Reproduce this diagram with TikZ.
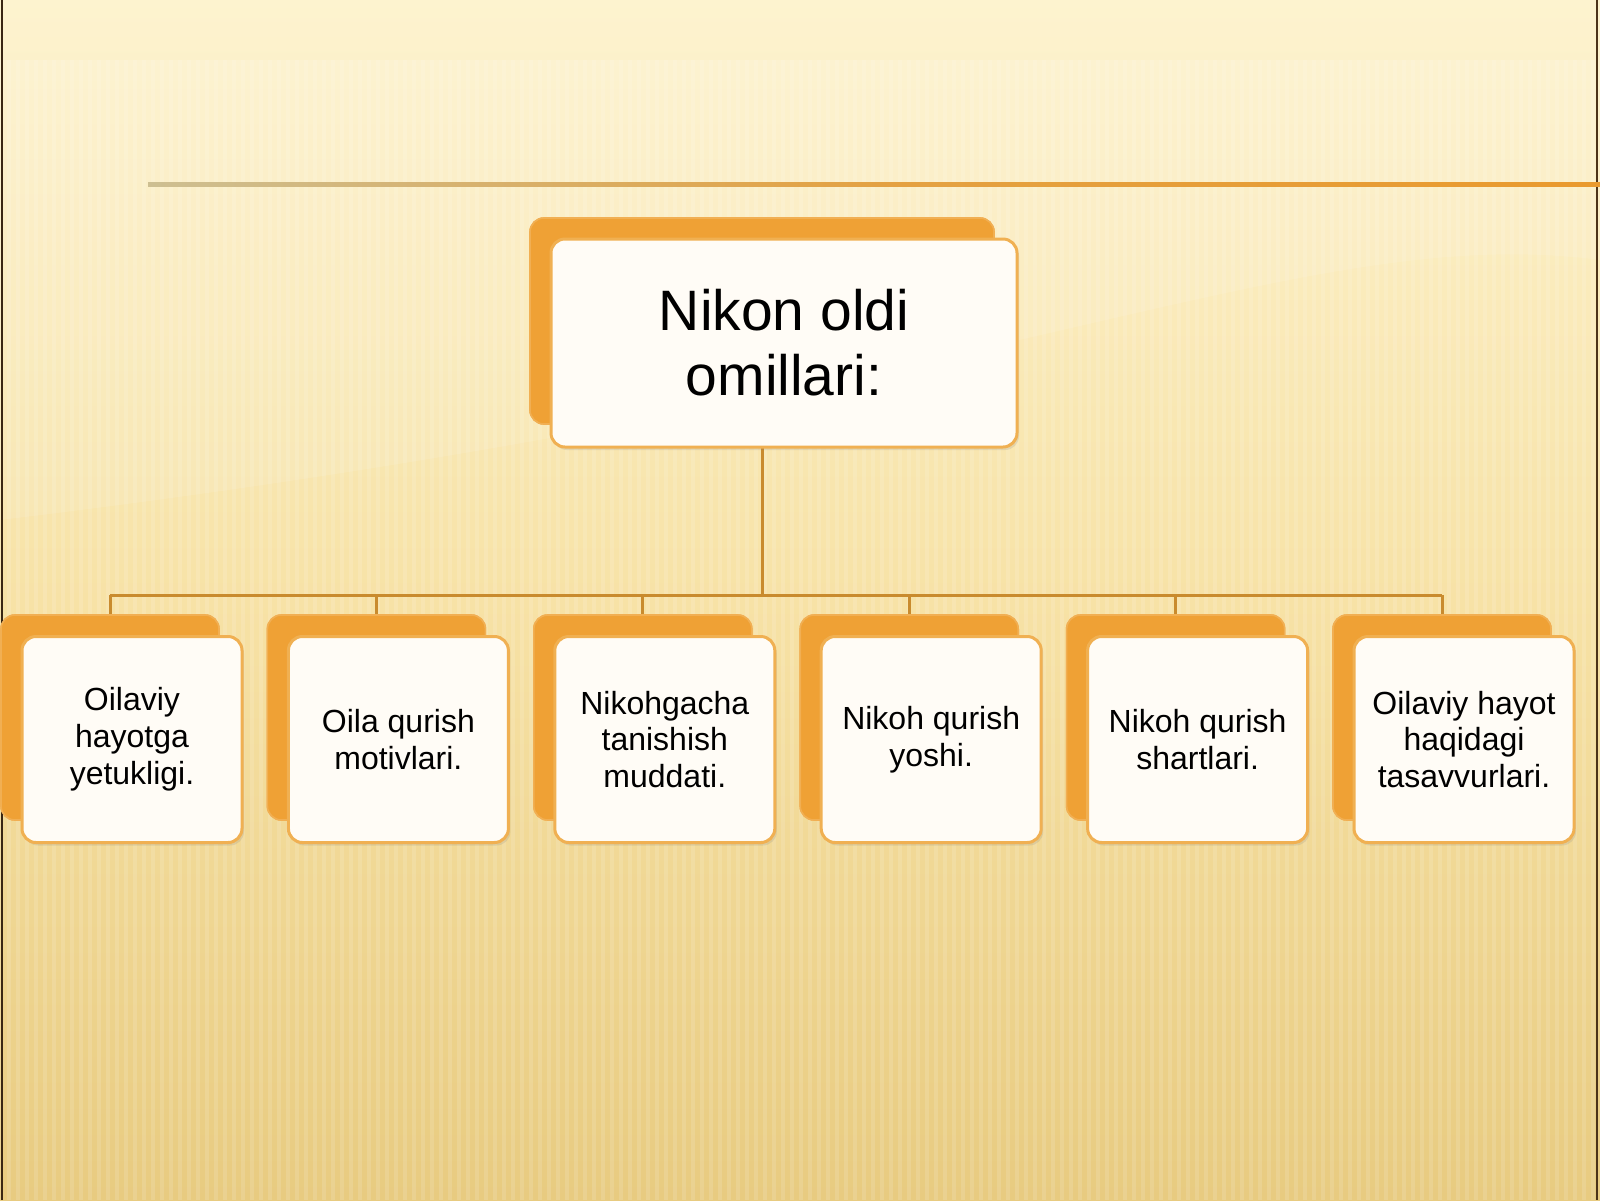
\documentclass[tikz,border=0pt]{standalone}
\usepackage{fontspec}
\setmainfont{Liberation Sans}
\usetikzlibrary{calc,shadows}
\definecolor{bgtop}{HTML}{FDF3CF}
\definecolor{bgmid}{HTML}{F7E2A6}
\definecolor{bgbot}{HTML}{E8CB80}
\definecolor{backorange}{HTML}{EFA135}
\definecolor{frontedge}{HTML}{F0B052}
\definecolor{frontfill}{HTML}{FFFCF6}
\definecolor{conn}{HTML}{C98B2E}
\definecolor{rulegrey}{HTML}{CDBF92}
\definecolor{ruleorange}{HTML}{E99A2E}
\tikzset{
  backbox/.style={rectangle, rounded corners=7pt, fill=backorange, draw=backorange!85!white, line width=0.8pt, inner sep=0pt},
  frontbox/.style={rectangle, rounded corners=7pt, fill=frontfill, draw=frontedge, line width=1.5pt, inner sep=0pt, align=center, text=black,
    drop shadow={shadow xshift=1pt, shadow yshift=-1.5pt, opacity=0.18}},
  smallback/.style={backbox, minimum width=109pt, minimum height=102.5pt},
  smallfront/.style={frontbox, minimum width=110pt, minimum height=103pt, font=\fontsize{16pt}{18.4pt}\selectfont},
  connline/.style={draw=conn, line width=1.5pt},
}
\begin{document}
\begin{tikzpicture}[x=0.5pt,y=-0.5pt]
\useasboundingbox (0,0) rectangle (1600,1200);
% background
\shade[top color=bgtop, bottom color=bgbot, middle color=bgmid] (0,0) rectangle (1600,1200);
\foreach \x in {0,9,...,1600} \draw[white, opacity=0.13, line width=1.6pt] (\x,60) -- (\x,1200);
\fill[white, opacity=0.10] (0,60) -- (1600,60) -- (1600,260) .. controls (1300,220) and (1000,400) .. (0,520) -- cycle;
\draw[black!70!brown, line width=1pt] (2,0) -- (2,1200);
\draw[black!60!brown, line width=0.8pt] (1597,0) -- (1597,1200);
% top rule
\shade[left color=rulegrey, right color=ruleorange, middle color=ruleorange!80!rulegrey] (148,182.5) rectangle (1600,186);
% connectors
\coordinate (bus) at (763,595);
\node[backbox, minimum width=232pt, minimum height=103pt] (topback) at (762,321) {};
\foreach \i in {1,...,6} {
  \pgfmathsetmacro{\cx}{110+266.4*(\i-1)}
  \node[smallback] (b\i back) at (\cx,717.5) {};
}
\draw[connline] (topback.center) -- (topback.center |- bus);
\draw[connline] (b1back.north |- bus) -- (b6back.north |- bus);
\foreach \i in {1,...,6} \draw[connline] (b\i back.north |- bus) -- (b\i back.north);
% redraw back boxes over connectors
\node[backbox, minimum width=232pt, minimum height=103pt] at (762,321) {};
\foreach \i in {1,...,6} {
  \pgfmathsetmacro{\cx}{110+266.4*(\i-1)}
  \node[smallback] at (\cx,717.5) {};
}
% front boxes
\node[frontbox, minimum width=233pt, minimum height=104pt, font=\fontsize{28.5pt}{32.5pt}\selectfont] (top) at (784,343) {Nikon oldi\\omillari:};
\node[smallfront] (b1) at ($(b1back.center)+(22,22)$) {Oilaviy\\hayotga\\yetukligi.};
\node[smallfront] (b2) at ($(b2back.center)+(22,22)$) {Oila qurish\\motivlari.};
\node[smallfront] (b3) at ($(b3back.center)+(22,22)$) {Nikohgacha\\tanishish\\muddati.};
\node[smallfront] (b4) at ($(b4back.center)+(22,22)$) {Nikoh qurish\\yoshi.};
\node[smallfront] (b5) at ($(b5back.center)+(22,22)$) {Nikoh qurish\\shartlari.};
\node[smallfront] (b6) at ($(b6back.center)+(22,22)$) {Oilaviy hayot\\haqidagi\\tasavvurlari.};
\end{tikzpicture}
\end{document}
